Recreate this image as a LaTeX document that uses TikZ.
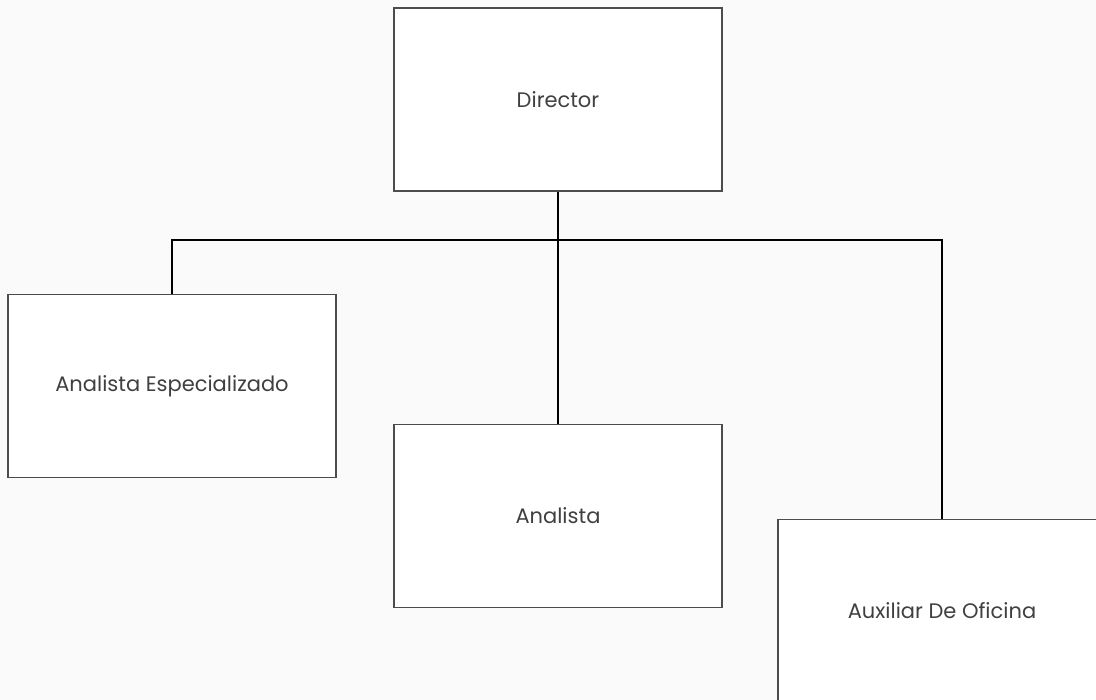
\documentclass[tikz,border=0pt]{standalone}
\usepackage{fontspec}
\setmainfont{Poppins}
\begin{document}
\begin{tikzpicture}[x=1pt,y=-1pt,
  role/.style={draw=black!70,line width=1.3pt,fill=white,minimum width=328pt,minimum height=183pt,inner sep=0pt,font=\fontsize{21}{24}\selectfont,text=black!75},
  link/.style={draw=black,line width=2pt}]
\fill[black!2] (0,0) rectangle (1096,700);
\useasboundingbox (0,0) rectangle (1096,700);
\node[role] (dir) at (558,99.5) {Director};
\node[role] (ae) at (172,386) {Analista Especializado};
\node[role] (an) at (558,516) {Analista};
\node[role] (aux) at (942,611) {Auxiliar De Oficina};
\coordinate (bar) at (558,240);
\draw[link] (dir.south) -- (an.north);
\draw[link] (ae.north) |- (bar);
\draw[link] (aux.north) |- (bar);
\end{tikzpicture}
\end{document}
